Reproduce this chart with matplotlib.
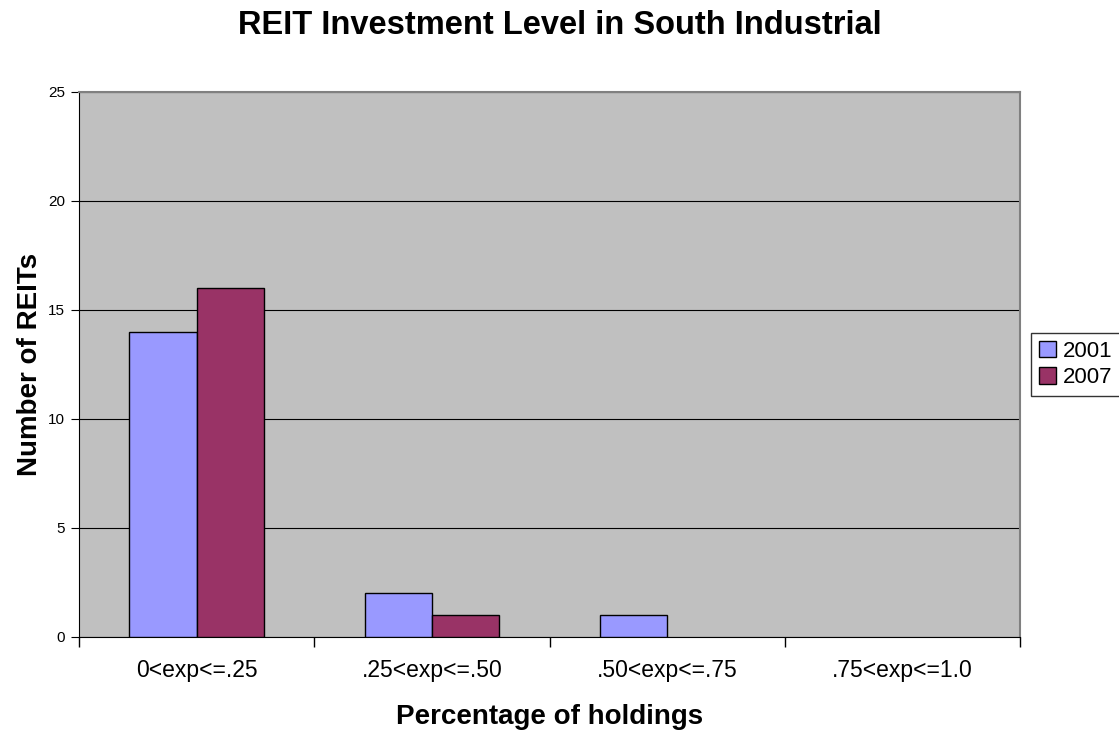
import matplotlib.pyplot as plt
import numpy as np

plt.rcParams['font.family'] = ['Liberation Sans', 'DejaVu Sans']

categories = ['0<exp<=.25', '.25<exp<=.50', '.50<exp<=.75', '.75<exp<=1.0']
reits_2001 = [14, 2, 1, 0]
reits_2007 = [16, 1, 0, 0]
yticks = [0, 5, 10, 15, 20, 25]

fig = plt.figure(figsize=(11.19, 7.33), dpi=100)
ax = fig.add_axes([0.0706, 0.131, 0.841, 0.7435])
ax.set_facecolor('#C0C0C0')

x = np.arange(len(categories))
w = 1 / 3.5
# empty categories get no outline so nothing is drawn on the axis line
ax.bar(x - w / 2, reits_2001, w, color='#9999FF', linewidth=1, label='2001', zorder=3,
       edgecolor=['black' if v else 'none' for v in reits_2001])
ax.bar(x + w / 2, reits_2007, w, color='#993366', linewidth=1, label='2007', zorder=3,
       edgecolor=['black' if v else 'none' for v in reits_2007])

ax.set_xlim(-0.5, len(categories) - 0.5)
ax.set_ylim(0, 25)
ax.set_yticks(yticks)
ax.yaxis.grid(True, color='black', linewidth=0.8, zorder=1)
ax.set_axisbelow(True)

# category ticks sit on the boundaries, labels in the middle
ax.set_xticks(np.arange(len(categories) + 1) - 0.5)
ax.set_xticklabels([])
ax.set_xticks(x, minor=True)
ax.set_xticklabels(categories, minor=True, fontsize=16.5)
ax.tick_params(axis='x', which='minor', length=0, pad=16)
ax.tick_params(axis='x', which='major', length=7, direction='out', width=1)
ax.tick_params(axis='y', length=6, direction='out', labelsize=11, pad=4)

for side in ['top', 'right']:
    ax.spines[side].set_color('#808080')
    ax.spines[side].set_linewidth(1.5)
ax.spines['left'].set_color('black')
ax.spines['bottom'].set_color('black')

ax.set_xlabel('Percentage of holdings', fontsize=20, fontweight='bold', labelpad=16)
ax.set_ylabel('Number of REITs', fontsize=20, fontweight='bold', labelpad=4)
fig.text(0.5, 1 - 34 / 733, 'REIT Investment Level in South Industrial',
         ha='center', va='baseline', fontsize=23.5, fontweight='bold')

leg = ax.legend(loc='center left', bbox_to_anchor=(1.012, 0.5), fontsize=16, frameon=True,
                fancybox=False, edgecolor='black', borderpad=0.35, handlelength=0.75,
                handleheight=0.75, handletextpad=0.3, labelspacing=0.25, borderaxespad=0)
leg.get_frame().set_linewidth(1)

fig.savefig('out.png', dpi=100)
